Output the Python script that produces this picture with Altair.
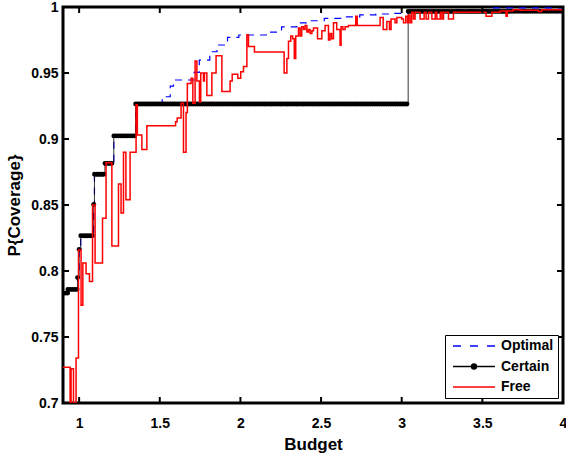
import altair as alt
import pandas as pd

# ---------------- data ----------------
opt_budget = [0.90, 0.93, 0.99, 1.00, 1.01, 1.09, 1.095, 1.16, 1.215, 1.35, 1.515, 1.565,
              1.585, 1.713, 1.745, 1.81, 1.855, 1.92, 1.99, 2.16, 2.255, 2.35, 2.43, 2.52,
              2.63, 2.74, 2.84, 2.95, 3.04, 3.3, 3.55, 4.0]
opt_value = [0.7833, 0.7861, 0.795, 0.8164, 0.8267, 0.8505, 0.8733, 0.8816, 0.9023, 0.9265,
             0.932, 0.940, 0.9447, 0.9505, 0.9598, 0.9661, 0.9712, 0.977, 0.9788, 0.981,
             0.985, 0.988, 0.9896, 0.9914, 0.9925, 0.994, 0.9947, 0.9952, 0.9968, 0.998,
             0.9993, 0.9995]

cert_budget = [0.90, 0.93, 0.99, 1.00, 1.01, 1.09, 1.095, 1.16, 1.215, 1.35, 3.04, 4.0]
cert_value = [0.7833, 0.7861, 0.795, 0.8164, 0.8267, 0.8505, 0.8733, 0.8816, 0.9023, 0.9265,
              0.9967, 0.9967]

free_budget = [0.900, 0.944, 0.950, 0.965, 0.981, 0.996, 1.012, 1.023, 1.043, 1.064, 1.083,
               1.099, 1.145, 1.167, 1.203, 1.244, 1.260, 1.275, 1.290, 1.316, 1.353, 1.361,
               1.389, 1.420, 1.598, 1.608, 1.632, 1.647, 1.663, 1.671, 1.694, 1.705, 1.719,
               1.730, 1.746, 1.754, 1.771, 1.777, 1.792, 1.823, 1.849, 1.885, 1.936, 1.949,
               1.984, 2.002, 2.019, 2.040, 2.050, 2.087, 2.271, 2.288, 2.298, 2.312, 2.324,
               2.334, 2.343, 2.360, 2.370, 2.380, 2.391, 2.401, 2.412, 2.422, 2.432, 2.443,
               2.453, 2.478, 2.505, 2.525, 2.546, 2.556, 2.566, 2.577, 2.597, 2.618, 2.624,
               2.635, 2.649, 2.670, 2.715, 2.724, 2.866, 2.885, 2.908, 2.924, 2.934, 2.959,
               2.970, 3.000, 3.011, 3.025, 3.036, 3.042, 3.052, 3.062, 3.073, 3.083, 3.114,
               3.139, 3.151, 3.166, 3.187, 3.208, 3.218, 3.239, 3.249, 3.259, 3.290, 3.321,
               3.523, 3.559, 3.610, 3.647, 3.655, 3.690, 3.734, 3.848, 3.868, 4.000]
free_value = [0.727, 0.700, 0.726, 0.700, 0.734, 0.816, 0.774, 0.806, 0.798, 0.792, 0.850,
              0.806, 0.840, 0.882, 0.819, 0.866, 0.844, 0.890, 0.854, 0.890, 0.926, 0.903,
              0.892, 0.910, 0.913, 0.916, 0.927, 0.890, 0.920, 0.942, 0.946, 0.927, 0.959,
              0.944, 0.928, 0.950, 0.944, 0.950, 0.933, 0.950, 0.963, 0.936, 0.944, 0.949,
              0.946, 0.951, 0.955, 0.979, 0.970, 0.966, 0.950, 0.961, 0.974, 0.978, 0.976,
              0.961, 0.978, 0.984, 0.978, 0.985, 0.983, 0.986, 0.981, 0.983, 0.980, 0.982,
              0.984, 0.976, 0.982, 0.986, 0.975, 0.980, 0.976, 0.988, 0.983, 0.971, 0.985,
              0.983, 0.985, 0.986, 0.993, 0.986, 0.992, 0.983, 0.989, 0.983, 0.991, 0.988,
              0.992, 0.991, 0.988, 0.993, 0.988, 0.994, 0.988, 0.996, 0.991, 0.996, 0.991,
              0.996, 0.991, 0.996, 0.991, 0.996, 0.991, 0.996, 0.991, 0.996, 0.991, 0.996,
              0.993, 0.996, 0.997, 0.993, 0.997, 0.998, 0.9975, 0.9965, 0.998, 0.998]

series_names = ["Optimal", "Certain", "Free"]
series_colors = ["#0000ff", "#000000", "#ff0000"]
series_fills = ["#0000ff", "#000000", "#ff0000"]
# legend glyphs (custom symbol paths): dashed line, line with dot, plain line
series_glyphs = [
    "M-0.5,0L0.83,0M2.33,0L3.67,0M5.17,0L6.5,0",
    "M-0.5,0L6.5,0M3.42,0A0.42,0.42,0,1,1,2.58,0A0.42,0.42,0,1,1,3.42,0Z",
    "M-0.5,0L6.5,0",
]
x_ticks = [1, 1.5, 2, 2.5, 3, 3.5, 4]
y_ticks = [0.7, 0.75, 0.8, 0.85, 0.9, 0.95, 1.0]

# ---------------- tables ----------------
opt_df = pd.DataFrame({"budget": opt_budget, "p": opt_value})
cert_df = pd.DataFrame({"budget": cert_budget, "p": cert_value})
cert_seg = pd.DataFrame({"budget": cert_budget[:-1], "budget_end": cert_budget[1:],
                         "p": cert_value[:-1]})
free_df = pd.DataFrame({"budget": free_budget, "p": free_value})
legend_df = pd.DataFrame({"series": series_names})
xt_df = pd.DataFrame({"t": x_ticks})
yt_df = pd.DataFrame({"t": y_ticks})

W, H = 500, 396
TICK = 6
FONT = "Liberation Sans"
xscale = alt.Scale(domain=[0.9, 4.0], nice=False, zero=False)
yscale = alt.Scale(domain=[0.7, 1.0], nice=False, zero=False)

x_main = alt.Axis(orient="bottom", values=x_ticks, format="~g", title="Budget", tickSize=0,
                  labelPadding=13, domain=False, grid=False, labelFlush=False,
                  labelFont=FONT, labelFontSize=14, labelFontWeight="bold", labelColor="black",
                  titleFont=FONT, titleFontSize=17, titleFontWeight="bold",
                  titleColor="black", titlePadding=6)
y_main = alt.Axis(orient="left", values=y_ticks, format="~g", title="P{Coverage}", tickSize=0,
                  labelPadding=5, domain=False, grid=False, labelFlush=False,
                  labelFont=FONT, labelFontSize=14, labelFontWeight="bold", labelColor="black",
                  titleFont=FONT, titleFontSize=17, titleFontWeight="bold",
                  titleColor="black", titlePadding=7)

opt_line = alt.Chart(opt_df).mark_line(
    interpolate="step-after", color="#0000ff", strokeWidth=1.2, strokeDash=[7, 6], clip=True
).encode(
    x=alt.X("budget:Q", scale=xscale, axis=x_main),
    y=alt.Y("p:Q", scale=yscale, axis=y_main),
)

cert_line = alt.Chart(cert_df).mark_line(
    interpolate="step-after", color="black", strokeWidth=0.8, clip=True
).encode(
    x=alt.X("budget:Q", scale=xscale, axis=None),
    y=alt.Y("p:Q", scale=yscale, axis=None),
)

# dense sample markers of the "Certain" policy drawn as beaded runs
cert_dots = alt.Chart(cert_seg).mark_rule(
    color="black", strokeWidth=4.8, strokeCap="round", strokeDash=[0.1, 2.2], clip=True
).encode(
    x=alt.X("budget:Q", scale=xscale, axis=None),
    x2="budget_end:Q",
    y=alt.Y("p:Q", scale=yscale, axis=None),
)

free_line = alt.Chart(free_df).mark_line(
    interpolate="step-after", color="#ff0000", strokeWidth=1.5, clip=True
).encode(
    x=alt.X("budget:Q", scale=xscale, axis=None),
    y=alt.Y("p:Q", scale=yscale, axis=None),
)

# inward-pointing ticks on all four sides (MATLAB style box)
tick_style = dict(color="black", strokeWidth=2)
bottom_ticks = alt.Chart(xt_df).mark_rule(**tick_style).encode(
    x=alt.X("t:Q", scale=xscale, axis=None), y=alt.value(H), y2=alt.value(H - TICK))
top_ticks = alt.Chart(xt_df).mark_rule(**tick_style).encode(
    x=alt.X("t:Q", scale=xscale, axis=None), y=alt.value(0), y2=alt.value(TICK))
left_ticks = alt.Chart(yt_df).mark_rule(**tick_style).encode(
    y=alt.Y("t:Q", scale=yscale, axis=None), x=alt.value(0), x2=alt.value(TICK))
right_ticks = alt.Chart(yt_df).mark_rule(**tick_style).encode(
    y=alt.Y("t:Q", scale=yscale, axis=None), x=alt.value(W), x2=alt.value(W - TICK))

leg = alt.Legend(title=None, orient="bottom-right", offset=5, padding=4, rowPadding=6.5,
                 strokeColor="black", fillColor="white", labelFont=FONT, labelFontSize=14,
                 labelFontWeight="bold", labelColor="black", labelOffset=38,
                 symbolSize=144, symbolStrokeWidth=1.3)

legend_layer = alt.Chart(legend_df).transform_filter("false").mark_point(
    opacity=1, size=144, strokeWidth=1.3
).encode(
    color=alt.Color("series:N", scale=alt.Scale(domain=series_names, range=series_colors),
                    legend=leg),
    fill=alt.Fill("series:N", scale=alt.Scale(domain=series_names, range=series_fills),
                  legend=leg),
    shape=alt.Shape("series:N", scale=alt.Scale(domain=series_names, range=series_glyphs),
                    legend=leg),
)

chart = alt.layer(
    opt_line, cert_line, cert_dots, free_line,
    bottom_ticks, top_ticks, left_ticks, right_ticks, legend_layer
).resolve_axis(
    x="independent", y="independent"
).properties(
    width=W, height=H,
    autosize=alt.AutoSizeParams(type="none"),
    padding={"left": 63, "top": 7, "right": 3, "bottom": 51},
    background="white",
).configure_view(stroke="black", strokeWidth=3)

chart.save("out.html", embed_options={"renderer": "svg", "actions": False})
